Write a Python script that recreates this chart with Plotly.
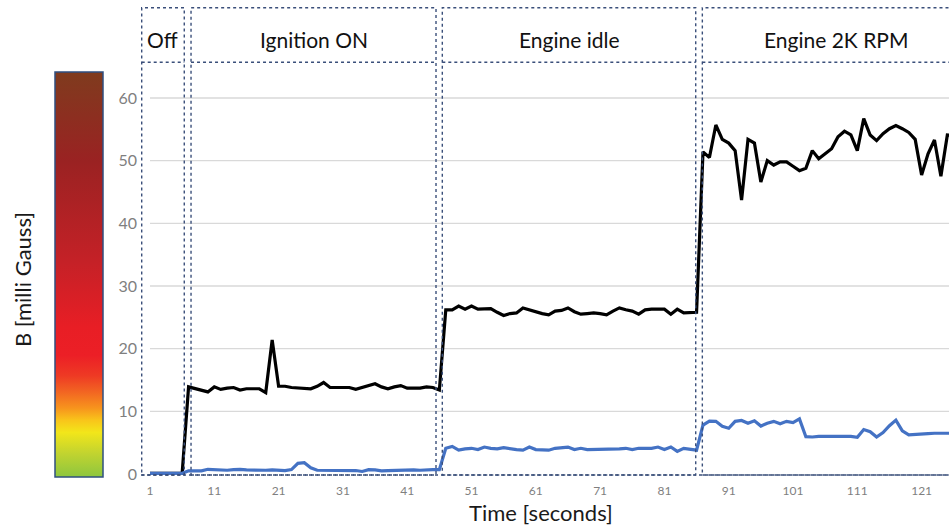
import plotly.graph_objects as go

# ---------------- data ----------------
time_s = list(range(1, 127))

b_total = [0.1, 0.1, 0.1, 0.1, 0.1, 0.1,
           13.9, 13.6, 13.3, 13.1, 13.9, 13.5, 13.7, 13.8, 13.4, 13.6,
           13.6, 13.6, 13.0, 21.4, 14.0, 14.0, 13.8, 13.7, 13.6, 13.6,
           14.0, 14.6, 13.8, 13.8, 13.8, 13.8, 13.5, 13.8, 14.1, 14.4,
           13.9, 13.6, 13.9, 14.1, 13.7, 13.7, 13.7, 13.9, 13.8, 13.4,
           26.2, 26.2, 26.8, 26.3, 26.8, 26.3, 26.4, 26.4, 25.8, 25.3,
           25.6, 25.7, 26.5, 26.2, 25.8, 25.6, 25.4, 26.0, 26.1, 26.5,
           25.9, 25.5, 25.6, 25.7, 25.6, 25.4, 26.0, 26.5, 26.2, 26.0,
           25.5, 26.2, 26.3, 26.3, 26.3, 25.5, 26.3, 25.7, 25.8, 25.8,
           51.4, 50.5, 55.7, 53.4, 52.8, 51.6, 43.7, 53.4, 52.8, 46.6,
           50.0, 49.3, 49.8, 49.8, 49.1, 48.4, 48.8, 51.6, 50.3, 51.1,
           51.9, 53.8, 54.7, 54.1, 51.6, 56.7, 54.1, 53.2, 54.3, 55.1,
           55.6, 55.1, 54.5, 53.4, 47.7, 51.1, 53.3, 47.5, 54.1, 54.0]

b_low = [0.1, 0.1, 0.1, 0.1, 0.1, 0.1,
         0.5, 0.5, 0.5, 0.75, 0.7, 0.55, 0.6, 0.7, 0.75, 0.65,
         0.6, 0.55, 0.6, 0.65, 0.6, 0.55, 0.7, 1.7, 1.8, 1.0,
         0.6, 0.6, 0.6, 0.6, 0.55, 0.6, 0.55, 0.4, 0.7, 0.65,
         0.5, 0.55, 0.6, 0.55, 0.7, 0.65, 0.6, 0.7, 0.7, 0.7,
         4.1, 4.4, 3.8, 4.0, 4.1, 3.9, 4.3, 4.1, 4.0, 4.2,
         4.0, 3.9, 3.8, 4.3, 3.9, 3.85, 3.8, 4.1, 4.2, 4.3,
         3.9, 4.1, 3.9, 3.9, 3.9, 3.9, 4.0, 4.0, 4.1, 3.9,
         4.1, 4.1, 4.1, 4.3, 3.9, 4.3, 3.6, 4.1, 4.0, 3.8,
         7.8, 8.45, 8.4, 7.6, 7.3, 8.4, 8.55, 8.1, 8.5, 7.65,
         8.1, 8.4, 8.0, 8.4, 8.2, 8.8, 5.95, 5.9, 6.0, 5.95,
         6.0, 6.0, 6.0, 6.0, 5.85, 7.1, 6.75, 5.9, 6.6, 7.7,
         8.6, 6.9, 6.25, 6.35, 6.4, 6.45, 6.5, 6.5, 6.5, 6.5]

phase_labels = ["Off", "Ignition ON", "Engine idle", "Engine 2K RPM"]
phase_start = [-0.29, 7.38, 46.46, 86.9]
phase_end = [6.33, 45.48, 85.87, 128.5]

x_tick_vals = list(range(1, 127, 10))
y_tick_vals = [0, 10, 20, 30, 40, 50, 60]

# colour scale of the side bar (0 = bottom, 1 = top)
bar_scale = [
    [0.00, "#8dc63f"], [0.06, "#c3d42f"], [0.11, "#f2e61a"],
    [0.14, "#f9c51a"], [0.17, "#f7941d"], [0.21, "#f26522"],
    [0.25, "#ee3a24"], [0.30, "#ec1f26"], [0.37, "#e81e25"],
    [0.53, "#c52127"], [0.78, "#9a2222"], [1.00, "#7f3b1e"],
]

# ---------------- layout constants ----------------
W, H = 949, 527
FONT = "Lato, 'Open Sans', sans-serif"
BOX_COLOR = "#3a4f7a"
X_RANGE = [-0.4, 125.26]
Y_RANGE = [-0.64, 74.84]
BOX_BOTTOM = -0.15
BOX_TOP = 74.4
HEADER_LINE = 65.7
HEADER_TEXT_Y = 69.3

fig = go.Figure()

fig.add_trace(go.Scatter(x=time_s, y=b_total, mode="lines",
                         line=dict(color="#000000", width=3.2),
                         showlegend=False, hoverinfo="skip"))
fig.add_trace(go.Scatter(x=time_s, y=b_low, mode="lines",
                         line=dict(color="#4472c4", width=3.2),
                         showlegend=False, hoverinfo="skip"))

# colour bar legend
fig.add_trace(go.Scatter(
    x=[None], y=[None], mode="markers", showlegend=False, hoverinfo="skip",
    marker=dict(color=[0, 1], cmin=0, cmax=1, colorscale=bar_scale,
                showscale=True,
                colorbar=dict(
                    x=55 / W, xanchor="left",
                    y=50 / H, yanchor="bottom",
                    thickness=48, thicknessmode="pixels",
                    len=405, lenmode="pixels",
                    xpad=0, ypad=0,
                    showticklabels=False, ticks="",
                    outlinewidth=1.5, outlinecolor="#2f4f80",
                ))))

shapes = []
# gridlines starting at first sample
for v in y_tick_vals[1:]:
    shapes.append(dict(type="line", xref="x", yref="y", x0=time_s[0], x1=X_RANGE[1],
                       y0=v, y1=v, line=dict(color="#d9d9d9", width=1.3), layer="below"))
# phase boxes
for s, e in zip(phase_start, phase_end):
    shapes.append(dict(type="rect", xref="x", yref="y", x0=s, x1=e,
                       y0=BOX_BOTTOM, y1=BOX_TOP,
                       line=dict(color=BOX_COLOR, width=1.4, dash="dot")))
    shapes.append(dict(type="line", xref="x", yref="y", x0=s, x1=e,
                       y0=HEADER_LINE, y1=HEADER_LINE,
                       line=dict(color=BOX_COLOR, width=1.4, dash="dot")))
# baseline
shapes.append(dict(type="line", xref="x", yref="y", x0=X_RANGE[0], x1=X_RANGE[1],
                   y0=BOX_BOTTOM, y1=BOX_BOTTOM,
                   line=dict(color=BOX_COLOR, width=1.4, dash="dot")))

annotations = []
for lab, s, e in zip(phase_labels, phase_start, phase_end):
    annotations.append(dict(x=(s + e) / 2, y=HEADER_TEXT_Y, xref="x", yref="y",
                            text=lab, showarrow=False,
                            font=dict(family=FONT, size=21, color="#111111")))
annotations.append(dict(x=22 / W, y=1 - 280 / H, xref="paper", yref="paper",
                        text="B [milli Gauss]", textangle=-90, showarrow=False,
                        xanchor="center", yanchor="middle",
                        font=dict(family=FONT, size=22, color="#1a1a1a")))
annotations.append(dict(x=541 / W, y=1 - 512 / H, xref="paper", yref="paper",
                        text="Time [seconds]", showarrow=False,
                        xanchor="center", yanchor="middle",
                        font=dict(family=FONT, size=22, color="#1a1a1a")))

fig.update_layout(
    width=W, height=H,
    margin=dict(l=0, r=0, t=0, b=0, autoexpand=False),
    paper_bgcolor="white", plot_bgcolor="white",
    shapes=shapes, annotations=annotations,
    xaxis=dict(domain=[141 / W, 1], range=X_RANGE, tickvals=x_tick_vals,
               showgrid=False, zeroline=False, showline=False, ticks="",
               ticklabelstandoff=4,
               tickfont=dict(family=FONT, size=12, color="#7f7f7f")),
    yaxis=dict(domain=[49 / H, 522 / H], range=Y_RANGE, tickvals=y_tick_vals,
               showgrid=False, zeroline=False, showline=False, ticks="",
               ticklabelstandoff=3,
               tickfont=dict(family=FONT, size=16, color="#7f7f7f")),
    font=dict(family=FONT),
)

fig.write_html("out.html")
